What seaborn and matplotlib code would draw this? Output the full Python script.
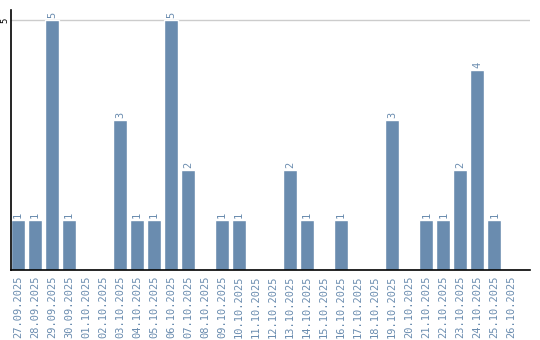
import matplotlib
matplotlib.use("Agg")
import matplotlib.pyplot as plt
import seaborn as sns
import pandas as pd

dates = ["27.09.2025", "28.09.2025", "29.09.2025", "30.09.2025", "01.10.2025",
         "02.10.2025", "03.10.2025", "04.10.2025", "05.10.2025", "06.10.2025",
         "07.10.2025", "08.10.2025", "09.10.2025", "10.10.2025", "11.10.2025",
         "12.10.2025", "13.10.2025", "14.10.2025", "15.10.2025", "16.10.2025",
         "17.10.2025", "18.10.2025", "19.10.2025", "20.10.2025", "21.10.2025",
         "22.10.2025", "23.10.2025", "24.10.2025", "25.10.2025", "26.10.2025"]
counts = [1, 1, 5, 1, 0, 0, 3, 1, 1, 5, 2, 0, 1, 1, 0, 0, 2, 1, 0, 1,
          0, 0, 3, 0, 1, 1, 2, 4, 1, 0]

df = pd.DataFrame({"date": dates, "count": counts})

bar_color = "#6a8caf"
text_color = "#6a8caf"

sns.set_style("white")
fig = plt.figure(figsize=(5.4, 3.4), dpi=100)
ax = fig.add_axes([11 / 540, 70 / 340, 519 / 540, 260 / 340])
sns.barplot(data=df, x="date", y="count", color=bar_color, width=0.82,
            saturation=1, ax=ax)

ax.set_xlim(-0.41, len(dates) - 0.5 + 0.6)
ax.set_ylim(0, 5.2)
ax.set_yticks([5])
ax.set_yticklabels(["5"], rotation=90, va="center", fontsize=6.5,
                   family="DejaVu Sans Mono", color="black")
ax.tick_params(axis="y", length=0, pad=1)
ax.axhline(5, color="#cccccc", lw=1, zorder=0)
ax.set_xticks(range(len(dates)))
ax.set_xticklabels(dates, rotation=90, fontsize=7.5, family="DejaVu Sans Mono",
                   color=text_color)
ax.tick_params(axis="x", length=0, pad=4)
ax.set_xlabel("")
ax.set_ylabel("")
for s in ["top", "right"]:
    ax.spines[s].set_visible(False)
for s in ["left", "bottom"]:
    ax.spines[s].set_color("black")
    ax.spines[s].set_linewidth(1.2)

for i, c in enumerate(counts):
    if c > 0:
        ax.text(i, c + 0.04, str(c), rotation=90, ha="center", va="bottom",
                fontsize=7.5, family="DejaVu Sans Mono", color=text_color)

fig.savefig("out.png", dpi=100)
